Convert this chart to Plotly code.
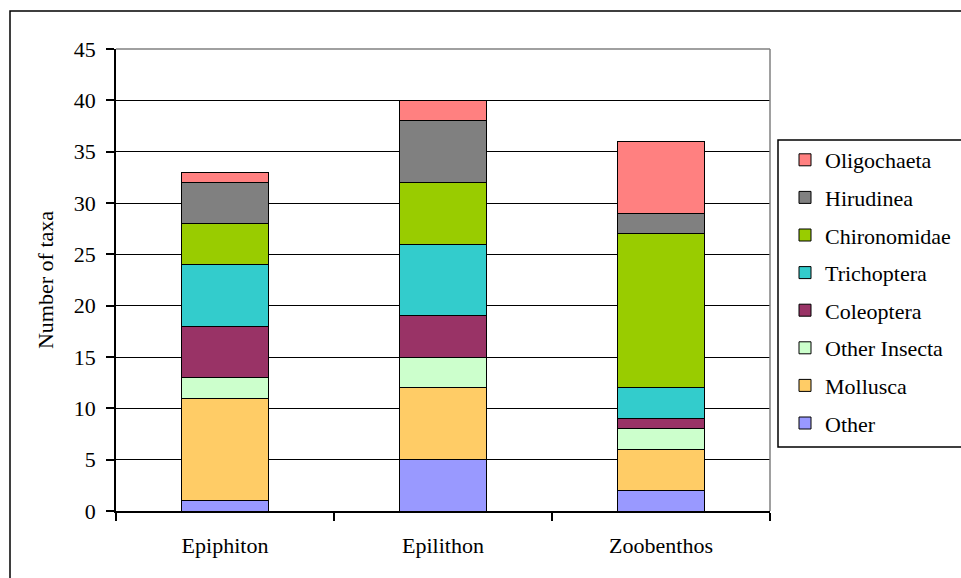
import plotly.graph_objects as go

# Habitat categories and taxa counts per group (stacked bottom to top)
habitats = ["Epiphiton", "Epilithon", "Zoobenthos"]

other = [1, 5, 2]
mollusca = [10, 7, 4]
other_insecta = [2, 3, 2]
coleoptera = [5, 4, 1]
trichoptera = [6, 7, 3]
chironomidae = [4, 6, 15]
hirudinea = [4, 6, 2]
oligochaeta = [1, 2, 7]

groups = [
    ("Other", other, "#9999FF"),
    ("Mollusca", mollusca, "#FFCC66"),
    ("Other Insecta", other_insecta, "#CCFFCC"),
    ("Coleoptera", coleoptera, "#993366"),
    ("Trichoptera", trichoptera, "#33CCCC"),
    ("Chironomidae", chironomidae, "#99CC00"),
    ("Hirudinea", hirudinea, "#808080"),
    ("Oligochaeta", oligochaeta, "#FF8080"),
]

FONT = "Times New Roman, Liberation Serif, DejaVu Serif, serif"
W, H = 961, 578
L, R, T, B = 116, 191, 49, 67
PW, PH = W - L - R, H - T - B


def px_x(x):
    return (x - L) / PW


def px_y(y):
    return (H - B - y) / PH


fig = go.Figure()
for i, (name, vals, color) in enumerate(groups):
    fig.add_trace(go.Bar(
        x=habitats, y=vals, name=name, legendgroup=name,
        legendrank=len(groups) - i,  # top of stack listed first
        marker=dict(color=color, line=dict(color="black", width=1)),
    ))

shapes = [
    # outer chart frame (runs off the right and bottom edges)
    dict(type="rect", xref="paper", yref="paper",
         x0=px_x(10), x1=px_x(1100), y0=px_y(650), y1=px_y(11),
         line=dict(color="black", width=1.5), fillcolor="rgba(0,0,0,0)",
         layer="below"),
    # plot area border (top and right in grey)
    dict(type="line", xref="paper", yref="paper", x0=0, x1=1, y0=1, y1=1,
         line=dict(color="#808080", width=1.5), layer="above"),
    dict(type="line", xref="paper", yref="paper", x0=1, x1=1, y0=0, y1=1,
         line=dict(color="#808080", width=1.5), layer="above"),
    # legend frame (runs off the right edge)
    dict(type="rect", xref="paper", yref="paper",
         x0=px_x(778), x1=px_x(1100), y0=px_y(447), y1=px_y(140),
         line=dict(color="black", width=1.5), fillcolor="white",
         layer="above"),
]

fig.update_layout(
    width=W, height=H,
    margin=dict(l=L, r=R, t=T, b=B, pad=0, autoexpand=False),
    paper_bgcolor="white", plot_bgcolor="white",
    font=dict(family=FONT, size=22, color="black"),
    barmode="stack", bargap=0.6,
    showlegend=True,
    legend=dict(
        x=px_x(785), y=px_y(139), xanchor="left", yanchor="top",
        traceorder="grouped", tracegroupgap=6,
        bgcolor="rgba(0,0,0,0)", borderwidth=0,
        font=dict(family=FONT, size=22, color="black"),
    ),
    xaxis=dict(
        showline=True, linecolor="black", linewidth=1.5,
        ticks="outside", tickson="boundaries", ticklen=8,
        tickcolor="black", tickwidth=1.5,
        showgrid=False, ticklabelstandoff=14,
        tickfont=dict(family=FONT, size=22),
    ),
    yaxis=dict(
        title=dict(text="Number of taxa", standoff=14,
                   font=dict(family=FONT, size=22)),
        range=[0, 45], dtick=5,
        showline=True, linecolor="black", linewidth=1.5,
        ticks="outside", ticklen=8, tickcolor="black", tickwidth=1.5,
        showgrid=True, gridcolor="black", gridwidth=1,
        zeroline=False, ticklabelstandoff=6,
        tickfont=dict(family=FONT, size=22),
    ),
    shapes=shapes,
)

fig.write_html("out.html")
